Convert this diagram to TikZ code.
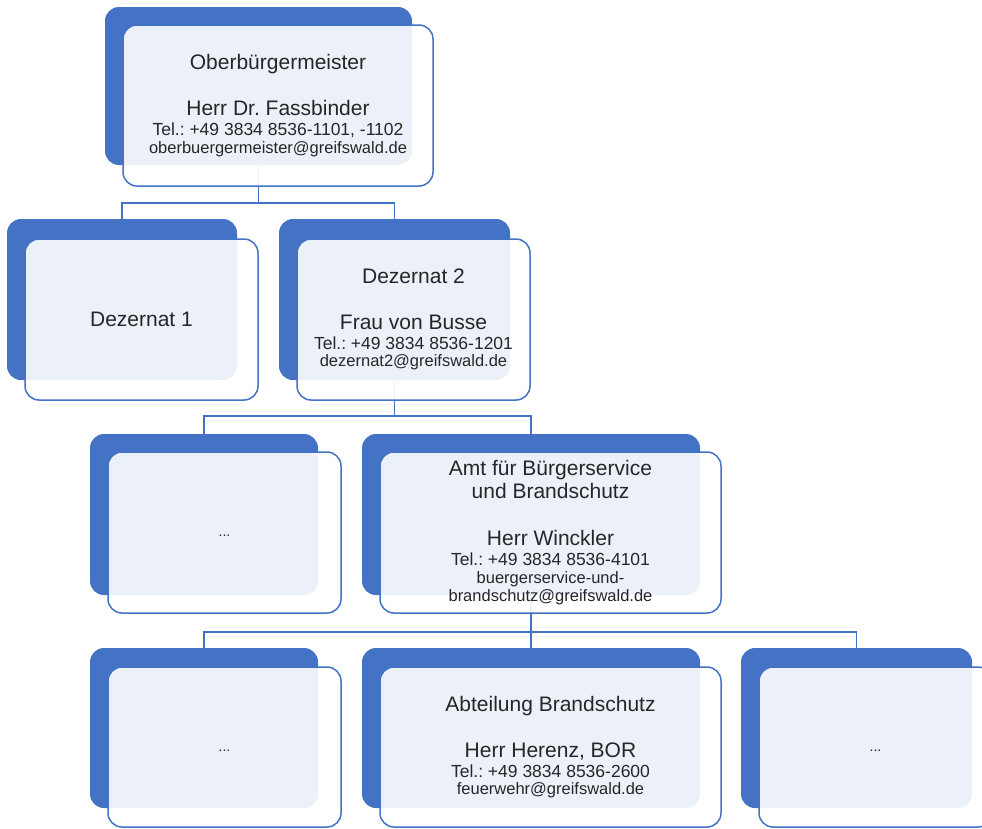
\documentclass[tikz,border=0pt]{standalone}
\usepackage{fontspec}
\setmainfont{Liberation Sans}
\frenchspacing
\definecolor{orgblue}{HTML}{4472C4}
\definecolor{orgtext}{HTML}{262626}
\newcommand{\orgtitle}{\fontsize{21}{0}\selectfont}
\newcommand{\orgmail}{\fontsize{16.5}{0}\selectfont}
\newcommand{\orgdots}{\fontsize{14}{0}\selectfont\raisebox{-4pt}[0pt][0pt]{...}}
\newcommand{\orgbody}{\fontsize{17.5}{0}\selectfont\lineskiplimit-100pt\lineskip0pt\relax}
\begin{document}
\begin{tikzpicture}[x=1pt,y=-1pt,inner sep=0pt,outer sep=0pt,
backbox/.style={fill=orgblue,rounded corners=14pt,anchor=north west},
frontbox/.style={draw=orgblue,line width=1.5pt,fill=white,fill opacity=0.9,text opacity=1,
  rounded corners=14pt,anchor=north west,align=center,text=orgtext,font=\orgbody},
link/.style={draw=orgblue,line width=1.6pt}]
\useasboundingbox (0,0) rectangle (982,828);
% back panels
\draw (105,7) node[backbox,minimum width=307pt,minimum height=158pt] (obm-bg) {};
\draw (7,219) node[backbox,minimum width=230pt,minimum height=161pt] (dez1-bg) {};
\draw (279,219) node[backbox,minimum width=231pt,minimum height=161pt] (dez2-bg) {};
\draw (90,434) node[backbox,minimum width=228pt,minimum height=161pt] (amtx-bg) {};
\draw (362,434) node[backbox,minimum width=338pt,minimum height=161pt] (amt-bg) {};
\draw (90,648) node[backbox,minimum width=228pt,minimum height=160pt] (abtx-bg) {};
\draw (362,648) node[backbox,minimum width=338pt,minimum height=160pt] (abt-bg) {};
\draw (741,648) node[backbox,minimum width=231pt,minimum height=160pt] (abty-bg) {};
% connectors
\draw[link] (obm-bg.south) -- ++(0,38) coordinate (j1) -| (dez1-bg.north);
\draw[link] (j1) -| (dez2-bg.north);
\draw[link] (dez2-bg.south) -- ++(0,36) coordinate (j2) -| (amtx-bg.north);
\draw[link] (j2) -| (amt-bg.north);
\draw[link] (amt-bg.south) -- ++(0,37) coordinate (j3) -| (abtx-bg.north);
\draw[link] (j3) -- (abt-bg.north);
\draw[link] (j3) -| (abty-bg.north);
% front panels
\draw (123,25) node[frontbox,minimum width=310pt,minimum height=161pt] (obm)
  {{\orgtitle Oberbürgermeister}\\[46pt]{\orgtitle Herr Dr. Fassbinder}\\[20pt]
   Tel.: +49 3834 8536-1101, -1102\\[17.5pt]{\orgmail oberbuergermeister@greifswald.de}};
\draw (25,239) node[frontbox,minimum width=233pt,minimum height=161pt] (dez1)
  {{\orgtitle Dezernat 1}};
\draw (297,239) node[frontbox,minimum width=233pt,minimum height=161pt] (dez2)
  {{\orgtitle Dezernat 2}\\[46pt]{\orgtitle Frau von Busse}\\[20pt]
   Tel.: +49 3834 8536-1201\\[17.5pt]{\orgmail dezernat2@greifswald.de}};
\draw (108,452) node[frontbox,minimum width=233pt,minimum height=161pt] (amtx)
  {\orgdots};
\draw (380,452) node[frontbox,minimum width=341pt,minimum height=161pt] (amt)
  {{\orgtitle Amt für Bürgerservice}\\[23pt]{\orgtitle und Brandschutz}\\[47pt]
   {\orgtitle Herr Winckler}\\[20pt]Tel.: +49 3834 8536-4101\\[18pt]
   {\orgmail buergerservice-und-}\\[18pt]{\orgmail brandschutz@greifswald.de}};
\draw (108,667) node[frontbox,minimum width=233pt,minimum height=160pt] (abtx)
  {\orgdots};
\draw (380,667) node[frontbox,minimum width=341pt,minimum height=160pt] (abt)
  {{\orgtitle Abteilung Brandschutz}\\[46pt]{\orgtitle Herr Herenz, BOR}\\[20pt]
   Tel.: +49 3834 8536-2600\\[17.5pt]{\orgmail feuerwehr@greifswald.de}};
\draw (759,667) node[frontbox,minimum width=233pt,minimum height=160pt] (abty)
  {\orgdots};
\end{tikzpicture}
\end{document}
